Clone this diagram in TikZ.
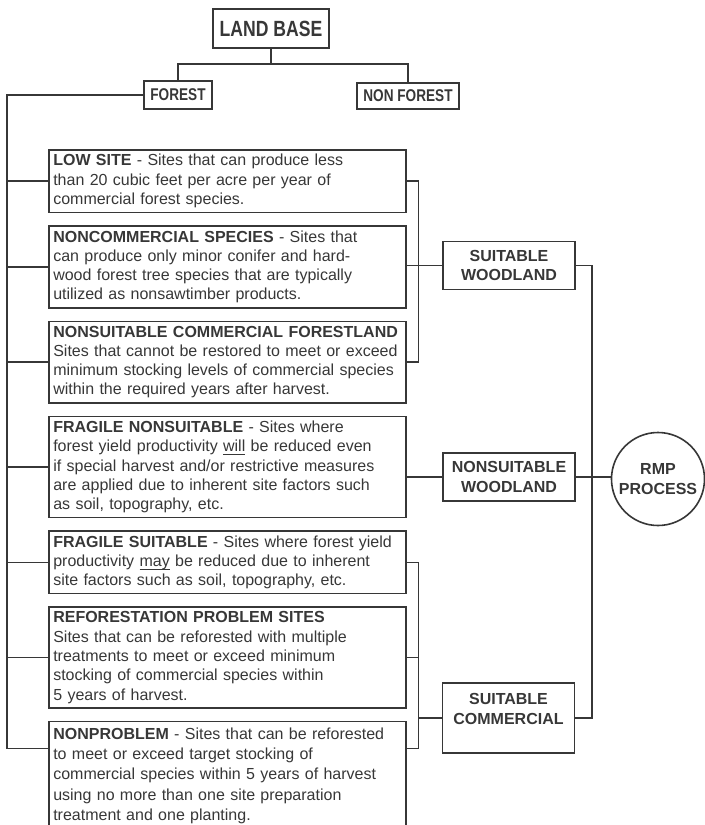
\documentclass[tikz,border=0pt]{standalone}
\usepackage{fontspec}
\setsansfont{Liberation Sans}
\newfontfamily\narrowsf[FakeStretch=0.8]{Liberation Sans}
\usetikzlibrary{positioning, calc}
\definecolor{inkGray}{RGB}{55, 55, 55}
\newcommand{\ulword}[1]{\underline{\smash{#1}}}

\begin{document}
\begin{tikzpicture}[
        x=0.5pt, y=-0.5pt,
        node distance=6pt,
        text=inkGray,
        font=\sffamily\fontsize{8}{9.65}\selectfont,
        head/.style={rectangle, draw=inkGray, line width=0.8pt, align=center, font=\narrowsf\bfseries\fontsize{8.5}{10}\selectfont},
        site/.style={rectangle, draw=inkGray, line width=0.8pt, text width=174pt, inner xsep=2.25pt, inner ysep=2.25pt, align=left},
        group/.style={rectangle, draw=inkGray, line width=0.8pt, minimum width=66pt, minimum height=24pt, align=center, font=\sffamily\bfseries\fontsize{8}{9.65}\selectfont},
        link/.style={draw=inkGray, line width=0.75pt}
    ]
        \useasboundingbox (0,0) rectangle (705,825);
        % top of the tree
        \node[head, minimum width=57pt, minimum height=19.5pt, font=\narrowsf\bfseries\fontsize{11}{13}\selectfont] (land) at (271,28.5) {LAND BASE};
        \node[head, minimum width=33pt, minimum height=14pt] (forest) at (178,95) {FOREST};
        \node[head, minimum width=51pt, minimum height=13pt] (nonforest) at (408,96) {NON FOREST};
        % forest land classes
        \node[site, anchor=north west] (lowsite) at (48,149) {\textbf{LOW SITE} - Sites that can produce less\\than 20 cubic feet per acre per year of\\commercial forest species.};
        \node[site, below=of lowsite] (noncomm) {\textbf{NONCOMMERCIAL SPECIES} - Sites that\\can produce only minor conifer and hard-\\wood forest tree species that are typically\\utilized as nonsawtimber products.};
        \node[site, below=of noncomm] (nonsuit) {\textbf{NONSUITABLE COMMERCIAL FORESTLAND}\\Sites that cannot be restored to meet or exceed\\minimum stocking levels of commercial species\\within the required years after harvest.};
        \node[site, below=of nonsuit] (fragnon) {\textbf{FRAGILE NONSUITABLE} - Sites where\\forest yield productivity \ulword{will} be reduced even\\if special harvest and/or restrictive measures\\are applied due to inherent site factors such\\as soil, topography, etc.};
        \node[site, below=of fragnon] (fragsuit) {\textbf{FRAGILE SUITABLE} - Sites where forest yield\\productivity \ulword{may} be reduced due to inherent\\site factors such as soil, topography, etc.};
        \node[site, below=of fragsuit] (refor) {\textbf{REFORESTATION PROBLEM SITES}\\Sites that can be reforested with multiple\\treatments to meet or exceed minimum\\stocking of commercial species within\\5 years of harvest.};
        \node[site, below=of refor, font=\sffamily\fontsize{8}{10.2}\selectfont, inner ysep=3pt] (nonprob) {\textbf{NONPROBLEM} - Sites that can be reforested\\to meet or exceed target stocking of\\commercial species within 5 years of harvest\\using no more than one site preparation\\treatment and one planting.};
        % groups and process
        \node[group] (sw) at (509,265.5) {SUITABLE\\WOODLAND};
        \node[group] (nw) at (509,477) {NONSUITABLE\\WOODLAND};
        \node[group, anchor=north, inner ysep=5.5pt, text depth=9pt] (sc) at (508.5,682) {SUITABLE\\COMMERCIAL};
        \node[circle, draw=inkGray, line width=0.8pt, minimum size=46.5pt, inner sep=0pt, align=center, font=\sffamily\bfseries\fontsize{8}{9.65}\selectfont] (rmp) at (658,479) {RMP\\PROCESS};
        \coordinate (trunk) at (7,0);
        \coordinate (tieL) at ([yshift=-14pt]nonprob.north west);
        \coordinate (tieR) at ([yshift=-14pt]nonprob.north east);
        % connectors
        \draw[link] (land.south) -- ++(0,15) -| (forest.north);
        \draw[link] (land.south) -- ++(0,15) -| (nonforest.north);
        \draw[link] (forest.west) -- (forest.west -| trunk) |- (tieL);
        \foreach \s in {lowsite, noncomm, nonsuit, fragnon, fragsuit, refor}
            \draw[link] (\s.west) -- (\s.west -| trunk);
        \draw[link] (lowsite.east) -- ++(12,0) |- (nonsuit.east);
        \draw[link] (sw.west -| noncomm.east) -- (sw.west);
        \draw[link] (nw.west -| fragnon.east) -- (nw.west);
        \draw[link] (fragsuit.east) -- ++(12,0) coordinate (bend) |- (tieR);
        \draw[link] (refor.east) -- (refor.east -| bend);
        \draw[link] (sc.west) -- (sc.west -| bend);
        \draw[link] (sw.east) -- ++(16,0) |- (sc.east);
        \draw[link] (nw.east) -- (nw.east -| rmp.west);
    \end{tikzpicture}
\end{document}
